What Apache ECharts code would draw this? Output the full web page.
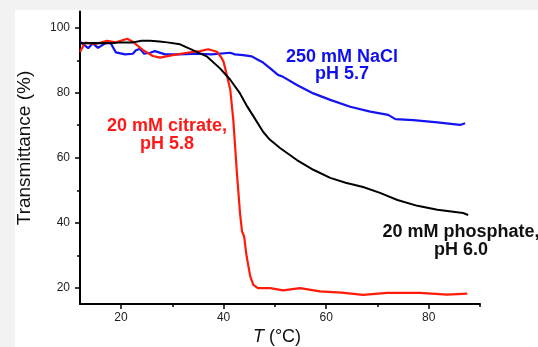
<!DOCTYPE html>
<html><head><meta charset="utf-8">
<script src="https://cdn.jsdelivr.net/npm/echarts@6/dist/echarts.min.js"></script>
<style>html,body{margin:0;padding:0;background:#f2f2f2}#c{width:538px;height:347px}</style>
</head><body><div id="c"></div>
<script>
// Temperature (°C) and transmittance (%)
const citrateT  = [12, 13, 15, 17.3, 19, 21.2, 22.3, 24.3, 26.2, 27.6, 30.1, 32.9, 35.4, 37.0, 38.7, 39.5, 40.0, 40.7, 41.3, 41.9, 42.6, 43.2, 43.6, 44.0, 44.5, 45.2, 45.8, 46.7, 49.1, 51.6, 54.9, 58.8, 63.0, 67.2, 71.9, 78.3, 83.6, 87.5];
const citrateTr = [92.6, 95.4, 95.0, 96.0, 95.5, 96.6, 95.7, 93.1, 91.3, 90.8, 91.6, 92.3, 92.8, 93.4, 92.6, 91.0, 89.5, 85.0, 81.0, 71.5, 55.3, 43.0, 37.3, 35.8, 29.6, 23.5, 20.9, 19.9, 19.9, 19.2, 19.9, 18.9, 18.5, 17.8, 18.4, 18.4, 17.9, 18.2];

const naclT  = [12, 13.6, 14.5, 15.5, 16.9, 17.9, 19.0, 20.8, 22.3, 22.9, 23.7, 24.5, 25.7, 26.6, 28.6, 31.1, 35.4, 37.6, 41.3, 41.6, 42.2, 43.8, 45.5, 46.5, 47.7, 49.1, 50.6, 51.6, 54.3, 57.5, 60.8, 64.7, 68.6, 72.1, 73.5, 77.0, 81.7, 86.1, 87.1];
const naclTr = [95.7, 93.7, 95.2, 93.8, 95.2, 95.5, 92.4, 91.8, 92.0, 93.1, 93.5, 92.0, 92.3, 92.8, 91.8, 91.8, 92.0, 91.8, 92.3, 92.9, 91.8, 91.6, 91.2, 90.3, 89.3, 87.5, 85.5, 84.9, 82.4, 79.8, 77.8, 75.7, 74.2, 73.2, 71.9, 71.6, 70.9, 70.1, 70.6];

const phosT  = [12, 15, 18, 20, 22.3, 24, 25.7, 27.5, 29, 31.5, 34, 36.8, 39.3, 41.3, 43.2, 44.6, 45.8, 47.7, 49.0, 51.0, 54.3, 57.5, 60.8, 63.8, 67.2, 70.5, 73.9, 77.8, 81.7, 86.7, 87.7];
const phosTr = [95.2, 95.3, 95.2, 95.5, 95.5, 96.0, 96.0, 95.8, 95.5, 94.9, 93.1, 91.1, 87.5, 84.0, 79.8, 75.8, 72.8, 68.0, 65.6, 63.0, 59.3, 56.3, 53.8, 52.3, 51.0, 49.2, 47.0, 45.2, 44.0, 43.0, 42.4];

const xMajorTicks = [20, 40, 60, 80];
const xMinorTicks = [30, 50, 70, 90];
const yMajorTicks = [20, 40, 60, 80, 100];
const yMinorTicks = [30, 50, 70, 90];

const FONT = 'Liberation Sans, Arial, Helvetica, sans-serif';
const zip = (a, b) => a.map((v, i) => [v, b[i]]);

const chart = echarts.init(document.getElementById('c'), null, {renderer: 'canvas'});

function axisBase(min, max) {
  return {
    type: 'value', min: min, max: max,
    splitLine: {show: false},
    axisLine: {show: true, onZero: false, lineStyle: {color: '#000', width: 2}},
  };
}

const option = {
  backgroundColor: '#f2f2f2',
  animation: false,
  grid: {left: 80, right: 58, top: 11.5, bottom: 43, containLabel: false, outerBoundsMode: 'none'},
  xAxis: [
    Object.assign(axisBase(12, 90), {
      position: 'bottom',
      axisTick: {show: true, inside: false, length: 5, customValues: xMajorTicks, lineStyle: {color: '#000', width: 1.5}},
      axisLabel: {show: true, customValues: xMajorTicks, margin: 8, fontSize: 12, color: '#222', fontFamily: FONT}
    }),
    Object.assign(axisBase(12, 90), {
      position: 'bottom',
      axisLine: {show: false, onZero: false},
      axisTick: {show: true, inside: false, length: 3, customValues: xMinorTicks, lineStyle: {color: '#000', width: 1.5}},
      axisLabel: {show: false}
    })
  ],
  yAxis: [
    Object.assign(axisBase(15, 105), {
      position: 'left',
      axisTick: {show: true, inside: false, length: 5, customValues: yMajorTicks, lineStyle: {color: '#000', width: 1.5}},
      axisLabel: {show: true, customValues: yMajorTicks, margin: 10, fontSize: 12, color: '#222', fontFamily: FONT}
    }),
    Object.assign(axisBase(15, 105), {
      position: 'left',
      axisLine: {show: false, onZero: false},
      axisTick: {show: true, inside: false, length: 3, customValues: yMinorTicks, lineStyle: {color: '#000', width: 1.5}},
      axisLabel: {show: false}
    })
  ],
  graphic: [
    {type: 'rect', z: -10, silent: true, shape: {x: 15, y: 10, width: 600, height: 400}, style: {fill: '#ffffff'}},
    {type: 'text', x: 25, y: 148, rotation: Math.PI / 2, style: {text: 'Transmittance (%)', fontSize: 19, fontFamily: FONT, fill: '#111', align: 'center', verticalAlign: 'middle'}},
    {type: 'text', x: 277, y: 337, style: {text: '{i|T} (°C)', rich: {i: {fontStyle: 'italic', fontSize: 18, fontFamily: FONT, fill: '#111'}}, fontSize: 18, fontFamily: FONT, fill: '#111', align: 'center', verticalAlign: 'middle'}},
    {type: 'text', x: 342, y: 66, style: {text: '250 mM NaCl\npH 5.7', fontSize: 18, fontWeight: 'bold', lineHeight: 17, fontFamily: FONT, fill: '#1010ee', align: 'center', verticalAlign: 'middle'}},
    {type: 'text', x: 167, y: 135, style: {text: '20 mM citrate,\npH 5.8', fontSize: 18, fontWeight: 'bold', lineHeight: 18, fontFamily: FONT, fill: '#ff1a1a', align: 'center', verticalAlign: 'middle'}},
    {type: 'text', x: 461, y: 241, style: {text: '20 mM phosphate,\npH 6.0', fontSize: 18, fontWeight: 'bold', lineHeight: 18, fontFamily: FONT, fill: '#111', align: 'center', verticalAlign: 'middle'}}
  ],
  series: [
    {name: 'NaCl', type: 'line', data: zip(naclT, naclTr), showSymbol: false, symbol: 'none', lineStyle: {color: '#1414f0', width: 2.2}, z: 3},
    {name: 'citrate', type: 'line', data: zip(citrateT, citrateTr), showSymbol: false, symbol: 'none', lineStyle: {color: '#ff1a0a', width: 2.2}, z: 4},
    {name: 'phosphate', type: 'line', data: zip(phosT, phosTr), showSymbol: false, symbol: 'none', lineStyle: {color: '#000', width: 2}, z: 5}
  ]
};
chart.setOption(option);
</script>
</body></html>
